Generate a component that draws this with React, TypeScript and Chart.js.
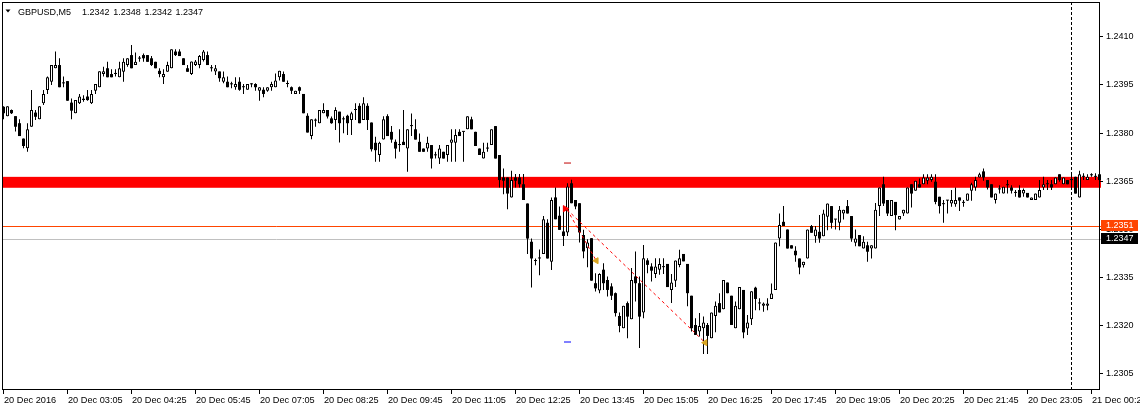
import React, { useEffect, useRef } from "react";
import { Chart, registerables } from "chart.js";

Chart.register(...registerables);

// ---- data (GBPUSD M5, 20 Dec 2016) ----
const opens = [
  1.23880, 1.23851, 1.23870, 1.23851, 1.23829, 1.23781, 1.23751, 1.23818, 1.23862, 1.23841,
  1.23891, 1.23932, 1.23958, 1.24000, 1.24010, 1.23953, 1.23960, 1.23893, 1.23860, 1.23891,
  1.23901, 1.23912, 1.23891, 1.23930, 1.23941, 1.23982, 1.24000, 1.23982, 1.23982, 1.23972,
  1.23989, 1.24010, 1.24041, 1.24010, 1.24030, 1.24041, 1.24041, 1.24031, 1.24020, 1.23992,
  1.23972, 1.23989, 1.24000, 1.24052, 1.24052, 1.24031, 1.24000, 1.23982, 1.24010, 1.24010,
  1.24026, 1.24041, 1.24000, 1.23990, 1.23990, 1.23958, 1.23958, 1.23950, 1.23941, 1.23958,
  1.23941, 1.23933, 1.23950, 1.23951, 1.23930, 1.23933, 1.23930, 1.23941, 1.23941, 1.23972,
  1.23982, 1.23951, 1.23941, 1.23920, 1.23941, 1.23920, 1.23852, 1.23789, 1.23837, 1.23829,
  1.23860, 1.23870, 1.23844, 1.23839, 1.23865, 1.23841, 1.23852, 1.23839, 1.23870, 1.23883,
  1.23839, 1.23883, 1.23831, 1.23768, 1.23730, 1.23778, 1.23851, 1.23802, 1.23771, 1.23761,
  1.23771, 1.23750, 1.23820, 1.23810, 1.23771, 1.23750, 1.23750, 1.23761, 1.23729, 1.23719,
  1.23740, 1.23730, 1.23768, 1.23768, 1.23802, 1.23802, 1.23810, 1.23841, 1.23802, 1.23750,
  1.23719, 1.23750, 1.23761, 1.23820, 1.23730, 1.23660, 1.23660, 1.23598, 1.23660, 1.23660,
  1.23639, 1.23579, 1.23460, 1.23400, 1.23408, 1.23422, 1.23519, 1.23398, 1.23598, 1.23541,
  1.23492, 1.23489, 1.23642, 1.23590, 1.23580, 1.23481, 1.23440, 1.23471, 1.23331, 1.23308,
  1.23373, 1.23341, 1.23321, 1.23300, 1.23229, 1.23191, 1.23269, 1.23219, 1.23352, 1.23331,
  1.23240, 1.23402, 1.23383, 1.23360, 1.23373, 1.23381, 1.23391, 1.23310, 1.23339, 1.23388,
  1.23422, 1.23391, 1.23292, 1.23201, 1.23181, 1.23191, 1.23201, 1.23160, 1.23229, 1.23269,
  1.23250, 1.23333, 1.23292, 1.23191, 1.23250, 1.23310, 1.23190, 1.23219, 1.23317, 1.23268,
  1.23261, 1.23261, 1.23282, 1.23310, 1.23470, 1.23522, 1.23498, 1.23449, 1.23432, 1.23408,
  1.23387, 1.23408, 1.23509, 1.23477, 1.23491, 1.23477, 1.23538, 1.23571, 1.23529, 1.23519,
  1.23548, 1.23571, 1.23540, 1.23457, 1.23481, 1.23439, 1.23449, 1.23439, 1.23439, 1.23571,
  1.23639, 1.23590, 1.23540, 1.23584, 1.23529, 1.23548, 1.23548, 1.23639, 1.23619, 1.23639,
  1.23639, 1.23650, 1.23652, 1.23647, 1.23600, 1.23577, 1.23588, 1.23579, 1.23577, 1.23598,
  1.23581, 1.23588, 1.23619, 1.23629, 1.23660, 1.23679, 1.23652, 1.23639, 1.23590, 1.23623,
  1.23610, 1.23636, 1.23629, 1.23612, 1.23621, 1.23610, 1.23612, 1.23590, 1.23590, 1.23598,
  1.23629, 1.23639, 1.23639, 1.23639, 1.23670, 1.23639, 1.23652, 1.23652, 1.23662, 1.23598,
  1.23662, 1.23652, 1.23667, 1.23662, 1.23670,
];
const highs = [
  1.23882, 1.23882, 1.23872, 1.23851, 1.23841, 1.23781, 1.23829, 1.23932, 1.23870, 1.23882,
  1.23932, 1.23974, 1.24010, 1.24052, 1.24031, 1.23974, 1.23960, 1.23906, 1.23901, 1.23920,
  1.23916, 1.23932, 1.23932, 1.23951, 1.23991, 1.24005, 1.24020, 1.23997, 1.23997, 1.24020,
  1.24031, 1.24031, 1.24072, 1.24049, 1.24038, 1.24046, 1.24041, 1.24038, 1.24020, 1.24000,
  1.23997, 1.24020, 1.24059, 1.24059, 1.24059, 1.24031, 1.24010, 1.24021, 1.24026, 1.24041,
  1.24057, 1.24052, 1.24010, 1.24010, 1.23990, 1.23990, 1.23974, 1.23958, 1.23972, 1.23972,
  1.23951, 1.23951, 1.23953, 1.23953, 1.23941, 1.23941, 1.23941, 1.23958, 1.23984, 1.23992,
  1.23990, 1.23962, 1.23943, 1.23930, 1.23943, 1.23920, 1.23860, 1.23841, 1.23844, 1.23870,
  1.23891, 1.23870, 1.23850, 1.23879, 1.23865, 1.23850, 1.23855, 1.23865, 1.23891, 1.23891,
  1.23910, 1.23891, 1.23831, 1.23787, 1.23771, 1.23851, 1.23857, 1.23820, 1.23778, 1.23810,
  1.23870, 1.23810, 1.23859, 1.23841, 1.23797, 1.23750, 1.23787, 1.23761, 1.23740, 1.23761,
  1.23740, 1.23761, 1.23810, 1.23810, 1.23810, 1.23803, 1.23851, 1.23849, 1.23802, 1.23750,
  1.23768, 1.23768, 1.23810, 1.23820, 1.23730, 1.23688, 1.23660, 1.23681, 1.23671, 1.23671,
  1.23671, 1.23579, 1.23470, 1.23408, 1.23436, 1.23540, 1.23530, 1.23598, 1.23629, 1.23570,
  1.23572, 1.23642, 1.23653, 1.23590, 1.23580, 1.23497, 1.23468, 1.23471, 1.23362, 1.23362,
  1.23393, 1.23352, 1.23331, 1.23302, 1.23240, 1.23261, 1.23274, 1.23378, 1.23430, 1.23352,
  1.23450, 1.23409, 1.23393, 1.23409, 1.23409, 1.23409, 1.23391, 1.23360, 1.23402, 1.23435,
  1.23422, 1.23391, 1.23292, 1.23222, 1.23238, 1.23227, 1.23207, 1.23240, 1.23274, 1.23300,
  1.23341, 1.23333, 1.23292, 1.23274, 1.23319, 1.23310, 1.23232, 1.23306, 1.23320, 1.23284,
  1.23271, 1.23284, 1.23330, 1.23458, 1.23548, 1.23571, 1.23498, 1.23449, 1.23446, 1.23408,
  1.23398, 1.23498, 1.23512, 1.23509, 1.23543, 1.23560, 1.23579, 1.23571, 1.23530, 1.23571,
  1.23560, 1.23590, 1.23540, 1.23498, 1.23481, 1.23477, 1.23460, 1.23449, 1.23581, 1.23629,
  1.23662, 1.23590, 1.23590, 1.23584, 1.23540, 1.23560, 1.23629, 1.23639, 1.23650, 1.23657,
  1.23670, 1.23670, 1.23670, 1.23670, 1.23600, 1.23590, 1.23590, 1.23621, 1.23629, 1.23598,
  1.23590, 1.23610, 1.23644, 1.23662, 1.23675, 1.23688, 1.23652, 1.23639, 1.23610, 1.23636,
  1.23631, 1.23652, 1.23636, 1.23621, 1.23636, 1.23626, 1.23612, 1.23598, 1.23610, 1.23652,
  1.23662, 1.23652, 1.23652, 1.23660, 1.23670, 1.23660, 1.23652, 1.23670, 1.23662, 1.23681,
  1.23673, 1.23670, 1.23673, 1.23673, 1.23673,
];
const lows = [
  1.23841, 1.23851, 1.23858, 1.23803, 1.23789, 1.23751, 1.23740, 1.23818, 1.23839, 1.23841,
  1.23886, 1.23920, 1.23948, 1.24000, 1.23941, 1.23941, 1.23899, 1.23841, 1.23860, 1.23889,
  1.23896, 1.23899, 1.23889, 1.23920, 1.23941, 1.23974, 1.23972, 1.23972, 1.23974, 1.23972,
  1.23958, 1.24005, 1.24000, 1.24010, 1.24020, 1.24020, 1.24020, 1.24007, 1.24000, 1.23972,
  1.23951, 1.23989, 1.24000, 1.24038, 1.24038, 1.24010, 1.23989, 1.23979, 1.24007, 1.24000,
  1.24021, 1.24010, 1.23990, 1.23979, 1.23958, 1.23953, 1.23941, 1.23938, 1.23933, 1.23930,
  1.23920, 1.23933, 1.23941, 1.23930, 1.23899, 1.23910, 1.23927, 1.23930, 1.23941, 1.23962,
  1.23958, 1.23941, 1.23920, 1.23920, 1.23920, 1.23860, 1.23800, 1.23779, 1.23818, 1.23829,
  1.23860, 1.23844, 1.23827, 1.23808, 1.23769, 1.23798, 1.23792, 1.23792, 1.23839, 1.23829,
  1.23839, 1.23808, 1.23741, 1.23709, 1.23709, 1.23778, 1.23789, 1.23768, 1.23719, 1.23740,
  1.23761, 1.23678, 1.23789, 1.23778, 1.23740, 1.23740, 1.23740, 1.23688, 1.23719, 1.23702,
  1.23719, 1.23709, 1.23709, 1.23709, 1.23789, 1.23709, 1.23810, 1.23810, 1.23758, 1.23730,
  1.23719, 1.23740, 1.23761, 1.23719, 1.23629, 1.23608, 1.23561, 1.23598, 1.23629, 1.23629,
  1.23590, 1.23422, 1.23318, 1.23387, 1.23356, 1.23422, 1.23408, 1.23372, 1.23530, 1.23497,
  1.23447, 1.23478, 1.23580, 1.23561, 1.23458, 1.23409, 1.23381, 1.23339, 1.23305, 1.23300,
  1.23310, 1.23290, 1.23279, 1.23227, 1.23178, 1.23191, 1.23160, 1.23219, 1.23274, 1.23129,
  1.23222, 1.23362, 1.23336, 1.23347, 1.23357, 1.23360, 1.23319, 1.23269, 1.23319, 1.23381,
  1.23399, 1.23259, 1.23181, 1.23170, 1.23165, 1.23111, 1.23111, 1.23160, 1.23178, 1.23240,
  1.23250, 1.23300, 1.23201, 1.23191, 1.23250, 1.23160, 1.23170, 1.23201, 1.23247, 1.23247,
  1.23242, 1.23247, 1.23282, 1.23310, 1.23446, 1.23509, 1.23439, 1.23439, 1.23398, 1.23359,
  1.23380, 1.23408, 1.23488, 1.23457, 1.23457, 1.23477, 1.23496, 1.23501, 1.23498, 1.23496,
  1.23529, 1.23548, 1.23460, 1.23446, 1.23446, 1.23439, 1.23398, 1.23408, 1.23439, 1.23540,
  1.23571, 1.23540, 1.23540, 1.23496, 1.23529, 1.23540, 1.23548, 1.23567, 1.23619, 1.23629,
  1.23639, 1.23639, 1.23647, 1.23577, 1.23548, 1.23519, 1.23548, 1.23569, 1.23569, 1.23556,
  1.23569, 1.23588, 1.23588, 1.23619, 1.23660, 1.23650, 1.23623, 1.23598, 1.23579, 1.23610,
  1.23610, 1.23610, 1.23610, 1.23600, 1.23598, 1.23600, 1.23598, 1.23590, 1.23590, 1.23598,
  1.23621, 1.23621, 1.23621, 1.23639, 1.23647, 1.23639, 1.23639, 1.23621, 1.23610, 1.23598,
  1.23652, 1.23652, 1.23662, 1.23652, 1.23652,
];
const closes = [
  1.23860, 1.23882, 1.23860, 1.23818, 1.23789, 1.23758, 1.23810, 1.23870, 1.23849, 1.23882,
  1.23920, 1.23972, 1.24010, 1.24010, 1.23941, 1.23954, 1.23899, 1.23868, 1.23901, 1.23912,
  1.23906, 1.23901, 1.23920, 1.23951, 1.23991, 1.23991, 1.23972, 1.23972, 1.23986, 1.24000,
  1.24020, 1.24031, 1.24000, 1.24020, 1.24031, 1.24031, 1.24020, 1.24010, 1.24000, 1.23982,
  1.23982, 1.24010, 1.24059, 1.24041, 1.24038, 1.24010, 1.23989, 1.24021, 1.24021, 1.24038,
  1.24052, 1.24010, 1.24001, 1.24000, 1.23969, 1.23972, 1.23941, 1.23951, 1.23951, 1.23933,
  1.23942, 1.23951, 1.23951, 1.23941, 1.23941, 1.23920, 1.23941, 1.23951, 1.23962, 1.23992,
  1.23958, 1.23952, 1.23930, 1.23930, 1.23930, 1.23860, 1.23800, 1.23841, 1.23838, 1.23870,
  1.23870, 1.23850, 1.23829, 1.23870, 1.23829, 1.23842, 1.23829, 1.23860, 1.23871, 1.23829,
  1.23891, 1.23839, 1.23748, 1.23745, 1.23768, 1.23841, 1.23789, 1.23778, 1.23750, 1.23762,
  1.23761, 1.23810, 1.23821, 1.23778, 1.23740, 1.23740, 1.23768, 1.23719, 1.23730, 1.23750,
  1.23719, 1.23761, 1.23778, 1.23792, 1.23789, 1.23803, 1.23851, 1.23810, 1.23758, 1.23730,
  1.23740, 1.23751, 1.23810, 1.23719, 1.23652, 1.23650, 1.23610, 1.23652, 1.23650, 1.23639,
  1.23590, 1.23470, 1.23408, 1.23401, 1.23409, 1.23530, 1.23408, 1.23590, 1.23530, 1.23497,
  1.23478, 1.23632, 1.23580, 1.23570, 1.23489, 1.23430, 1.23458, 1.23339, 1.23315, 1.23360,
  1.23331, 1.23310, 1.23292, 1.23238, 1.23198, 1.23261, 1.23227, 1.23341, 1.23331, 1.23227,
  1.23409, 1.23388, 1.23370, 1.23383, 1.23391, 1.23382, 1.23319, 1.23333, 1.23402, 1.23409,
  1.23399, 1.23300, 1.23191, 1.23170, 1.23198, 1.23209, 1.23167, 1.23240, 1.23261, 1.23240,
  1.23341, 1.23300, 1.23201, 1.23261, 1.23319, 1.23178, 1.23209, 1.23306, 1.23282, 1.23269,
  1.23268, 1.23268, 1.23299, 1.23458, 1.23512, 1.23509, 1.23439, 1.23439, 1.23418, 1.23380,
  1.23398, 1.23498, 1.23488, 1.23498, 1.23470, 1.23548, 1.23579, 1.23519, 1.23530, 1.23560,
  1.23560, 1.23548, 1.23470, 1.23470, 1.23446, 1.23460, 1.23429, 1.23449, 1.23560, 1.23629,
  1.23579, 1.23548, 1.23590, 1.23543, 1.23540, 1.23560, 1.23629, 1.23610, 1.23650, 1.23629,
  1.23660, 1.23660, 1.23662, 1.23584, 1.23571, 1.23578, 1.23589, 1.23590, 1.23590, 1.23588,
  1.23582, 1.23610, 1.23639, 1.23652, 1.23670, 1.23660, 1.23629, 1.23598, 1.23610, 1.23624,
  1.23631, 1.23637, 1.23619, 1.23613, 1.23598, 1.23621, 1.23598, 1.23598, 1.23610, 1.23621,
  1.23639, 1.23640, 1.23629, 1.23660, 1.23652, 1.23660, 1.23639, 1.23653, 1.23610, 1.23670,
  1.23663, 1.23662, 1.23668, 1.23663, 1.23652,
];

const timeTickIndices = [0, 16, 32, 48, 64, 80, 96, 112, 128, 144, 160, 176, 192, 208, 224, 240, 256, 272];
const timeTickLabels = [
  "20 Dec 2016", "20 Dec 03:05", "20 Dec 04:25", "20 Dec 05:45", "20 Dec 07:05", "20 Dec 08:25",
  "20 Dec 09:45", "20 Dec 11:05", "20 Dec 12:25", "20 Dec 13:45", "20 Dec 15:05", "20 Dec 16:25",
  "20 Dec 17:45", "20 Dec 19:05", "20 Dec 20:25", "20 Dec 21:45", "20 Dec 23:05", "21 Dec 00:25",
];
const priceTicks = [1.2305, 1.232, 1.2335, 1.235, 1.2365, 1.238, 1.2395, 1.241];

const headerSymbol = "GBPUSD,M5";
const headerValues = ["1.2342", "1.2348", "1.2342", "1.2347"];
const zoneTop = 1.23662;
const zoneBottom = 1.23628;
const askPrice = 1.2351;
const bidPrice = 1.2347;
const daySeparatorIndex = 267;
const trendStart = { x: 140.9, y: 1.2356 };
const trendEndA = { x: 148.2, y: 1.23401 };
const trendEndB = { x: 175.4, y: 1.23146 };
const arrowMark = { x: 140.4, y: 1.23563 };
const topDash = { x: 141, y: 1.23705 };
const bottomDash = { x: 141, y: 1.23148 };

const X_MIN = -0.375;
const X_MAX = 274.375;
const Y_MIN = 1.229955;
const Y_MAX = 1.242062;

const FONT = '"Liberation Sans", Arial, sans-serif';

function isBull(i: number) {
  return closes[i] - opens[i] > 0.000015;
}

const overlayPlugin = {
  id: "mt4Overlay",
  beforeDatasetsDraw(chart: any) {
    const { ctx, chartArea: a, scales } = chart;
    const xs = scales.x;
    const ys = scales.y;
    ctx.save();
    const zt = ys.getPixelForValue(zoneTop);
    const zb = ys.getPixelForValue(zoneBottom);
    ctx.fillStyle = "#ff0000";
    ctx.fillRect(a.left, zt, a.right - a.left, zb - zt);
    const ay = Math.round(ys.getPixelForValue(askPrice)) + 0.5;
    const by = Math.round(ys.getPixelForValue(bidPrice)) + 0.5;
    ctx.lineWidth = 1;
    ctx.strokeStyle = "#ff4500";
    ctx.beginPath();
    ctx.moveTo(a.left, ay);
    ctx.lineTo(a.right, ay);
    ctx.stroke();
    ctx.strokeStyle = "#c0c0c0";
    ctx.beginPath();
    ctx.moveTo(a.left, by);
    ctx.lineTo(a.right, by);
    ctx.stroke();
    const sx = Math.floor(xs.getPixelForValue(daySeparatorIndex)) + 0.5;
    ctx.strokeStyle = "#000";
    ctx.setLineDash([3, 2]);
    ctx.beginPath();
    ctx.moveTo(sx, a.top);
    ctx.lineTo(sx, a.bottom);
    ctx.stroke();
    ctx.restore();
  },
  afterDraw(chart: any) {
    const { ctx, chartArea: a, scales } = chart;
    const xs = scales.x;
    const ys = scales.y;
    ctx.save();
    ctx.strokeStyle = "#000";
    ctx.lineWidth = 1;
    ctx.strokeRect(a.left + 0.5, a.top + 0.5, a.right - a.left - 2, a.bottom - a.top - 2);

    // header
    ctx.fillStyle = "#000";
    ctx.beginPath();
    ctx.moveTo(5.5, 9.5);
    ctx.lineTo(10.5, 9.5);
    ctx.lineTo(8, 12.5);
    ctx.closePath();
    ctx.fill();
    ctx.font = `9px ${FONT}`;
    ctx.textAlign = "left";
    ctx.textBaseline = "alphabetic";
    ctx.fillText(headerSymbol, 18, 15);
    headerValues.forEach((v, k) => ctx.fillText(v, 82 + k * 31.2, 15));

    // time axis
    ctx.font = `9.2px ${FONT}`;
    const bottom = a.bottom - 1;
    timeTickIndices.forEach((v, k) => {
      const px = Math.floor(xs.getPixelForValue(v)) + 0.5;
      ctx.beginPath();
      ctx.moveTo(px, bottom);
      ctx.lineTo(px, bottom + 4);
      ctx.stroke();
      ctx.fillText(timeTickLabels[k], px + 0.5, 403);
    });

    // price axis
    const right = a.right - 1;
    ctx.font = `9px ${FONT}`;
    ctx.textBaseline = "middle";
    priceTicks.forEach((p) => {
      const py = Math.round(ys.getPixelForValue(p)) + 0.5;
      ctx.beginPath();
      ctx.moveTo(right, py);
      ctx.lineTo(right + 3, py);
      ctx.stroke();
      ctx.fillText(p.toFixed(4), right + 6, py);
    });

    const boxes = [
      { p: askPrice, bg: "#ff4500" },
      { p: bidPrice, bg: "#000000" },
    ];
    boxes.forEach((b) => {
      const py = ys.getPixelForValue(b.p);
      const top = Math.round(py - 5.5);
      ctx.fillStyle = b.bg;
      ctx.fillRect(right + 1, top, 37, 11);
      ctx.fillStyle = "#ffffff";
      ctx.fillText(b.p.toFixed(4), right + 6, top + 5.5);
    });
    ctx.restore();
  },
};

export default function App() {
  const canvasRef = useRef<HTMLCanvasElement | null>(null);

  useEffect(() => {
    document.body.style.margin = "0";
    const canvas = canvasRef.current;
    if (!canvas) return;

    const idx = opens.map((_, i) => i);
    const wickData = idx.map((i) => ({ x: i, y: [lows[i], highs[i]] }));
    const bodyData = idx.map((i) => ({
      x: i,
      y: [Math.min(opens[i], closes[i]), Math.max(opens[i], closes[i])],
    }));

    const chart = new Chart(canvas, {
      type: "bar",
      data: {
        datasets: [
          {
            type: "line",
            label: "trend A",
            data: [trendStart, trendEndA],
            borderColor: "#ff0000",
            borderWidth: 1,
            borderDash: [3, 3],
            pointRadius: 0,
            order: -3,
          } as any,
          {
            type: "line",
            label: "trend B",
            data: [trendStart, trendEndB],
            borderColor: "#ff0000",
            borderWidth: 1,
            borderDash: [3, 3],
            pointRadius: 0,
            order: -3,
          } as any,
          {
            type: "line",
            label: "targets",
            data: [trendEndA, trendEndB],
            showLine: false,
            pointStyle: "triangle",
            rotation: -90,
            pointRadius: 3.5,
            pointBackgroundColor: "#daa520",
            pointBorderColor: "#daa520",
            pointBorderWidth: 1,
            order: -4,
          } as any,
          {
            type: "line",
            label: "entry",
            data: [arrowMark],
            showLine: false,
            pointStyle: "triangle",
            rotation: 90,
            pointRadius: 3.5,
            pointBackgroundColor: "#ff0000",
            pointBorderColor: "#ff0000",
            pointBorderWidth: 1,
            order: -4,
          } as any,
          {
            type: "line",
            label: "high mark",
            data: [topDash],
            showLine: false,
            pointStyle: "line",
            pointRadius: 3.5,
            pointBorderColor: "#c00000",
            pointBorderWidth: 1,
            order: -4,
          } as any,
          {
            type: "line",
            label: "low mark",
            data: [bottomDash],
            showLine: false,
            pointStyle: "line",
            pointRadius: 3.5,
            pointBorderColor: "#0000ff",
            pointBorderWidth: 1,
            order: -4,
          } as any,
          {
            label: "bodies",
            data: bodyData as any,
            barThickness: 3,
            grouped: false,
            minBarLength: 1,
            borderSkipped: false,
            inflateAmount: 0,
            backgroundColor: (c: any) => (isBull(c.dataIndex) ? "#ffffff" : "#000000"),
            borderColor: "#000000",
            borderWidth: (c: any) => (isBull(c.dataIndex) ? 1 : 0),
            order: 0,
          } as any,
          {
            label: "wicks",
            data: wickData as any,
            barThickness: 1,
            grouped: false,
            minBarLength: 1,
            borderSkipped: false,
            inflateAmount: 0,
            backgroundColor: "#000000",
            borderWidth: 0,
            order: 1,
          } as any,
        ],
      },
      options: {
        responsive: false,
        devicePixelRatio: 1,
        animation: false,
        events: [],
        layout: { autoPadding: false, padding: { left: 2, top: 2, right: 39, bottom: 20 } },
        plugins: {
          legend: { display: false },
          tooltip: { enabled: false },
        },
        scales: {
          x: { type: "linear", display: false, min: X_MIN, max: X_MAX, offset: false },
          y: { type: "linear", display: false, min: Y_MIN, max: Y_MAX },
        },
      } as any,
      plugins: [overlayPlugin],
    });

    return () => chart.destroy();
  }, []);

  return (
    <div style={{ position: "absolute", left: 0, top: 0, width: 1140, height: 411, background: "#fff" }}>
      <canvas ref={canvasRef} width={1140} height={411} style={{ display: "block" }} />
    </div>
  );
}
